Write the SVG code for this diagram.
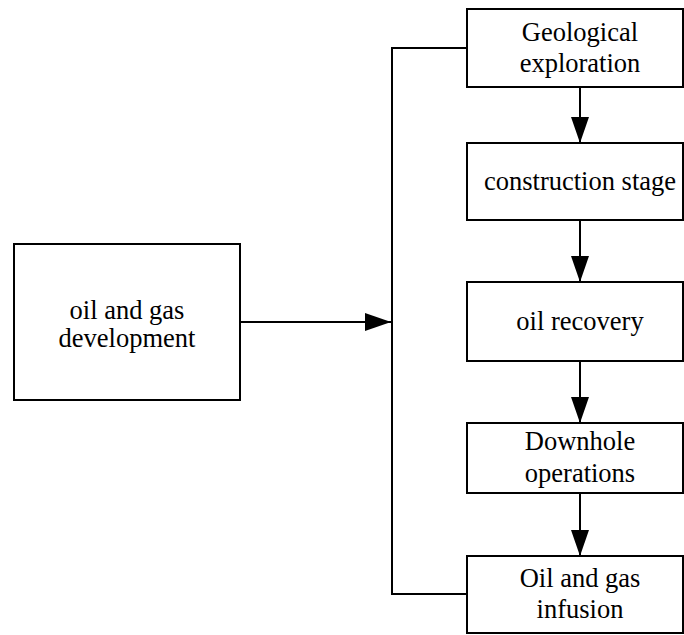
<svg xmlns="http://www.w3.org/2000/svg" width="684" height="635" viewBox="0 0 684 635">
<style>
.box{fill:#fff;stroke:#000;stroke-width:2}
.c{fill:none;stroke:#000;stroke-width:2}
text{font-family:"Liberation Serif","Times New Roman",Times,serif;font-size:26.5px;text-anchor:middle;fill:#000}
</style>
<defs>
<marker id="ah" markerWidth="26" markerHeight="18" refX="26" refY="9" orient="auto" markerUnits="userSpaceOnUse">
<path d="M0,0 L26,9 L0,18 Z" fill="#000"/>
</marker>
</defs>
<rect width="684" height="635" fill="#fff"/>
<g id="connectors">
<path class="c" d="M467,48 H392 V594 H467"/>
<line class="c" x1="240" y1="322" x2="391" y2="322" marker-end="url(#ah)"/>
<line class="c" x1="580" y1="87" x2="580" y2="143" marker-end="url(#ah)"/>
<line class="c" x1="580" y1="220" x2="580" y2="282" marker-end="url(#ah)"/>
<line class="c" x1="580" y1="361" x2="580" y2="423" marker-end="url(#ah)"/>
<line class="c" x1="580" y1="493" x2="580" y2="556" marker-end="url(#ah)"/>
</g>
<g id="dev">
<rect class="box" x="14" y="244" width="226" height="156"/>
<text x="127" y="319">oil and gas</text>
<text x="127" y="347">development</text>
</g>
<g id="geo">
<rect class="box" x="467" y="9" width="216" height="78"/>
<text x="580" y="41">Geological</text>
<text x="580" y="72">exploration</text>
</g>
<g id="cons">
<rect class="box" x="467" y="143" width="216" height="77"/>
<text x="580" y="190">construction stage</text>
</g>
<g id="rec">
<rect class="box" x="467" y="282" width="216" height="79"/>
<text x="580" y="330">oil recovery</text>
</g>
<g id="down">
<rect class="box" x="467" y="423" width="216" height="70"/>
<text x="580" y="450">Downhole</text>
<text x="580" y="482">operations</text>
</g>
<g id="inf">
<rect class="box" x="467" y="556" width="216" height="77"/>
<text x="580" y="587">Oil and gas</text>
<text x="580" y="618">infusion</text>
</g>
</svg>
